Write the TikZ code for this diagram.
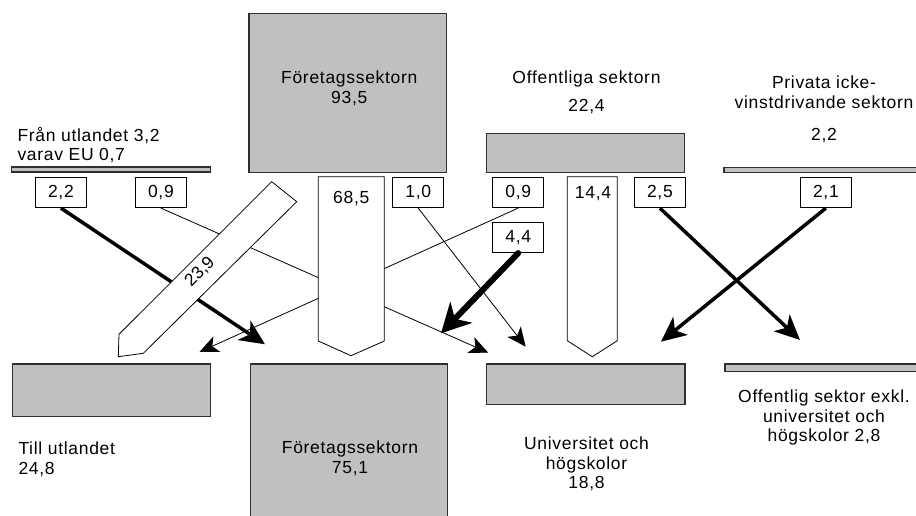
\documentclass[tikz,border=0pt]{standalone}
\usepackage{fontspec}
\setmainfont{Liberation Sans}[LetterSpace=4]
\newfontfamily\plainsans{Liberation Sans}
\usetikzlibrary{arrows.meta}
\definecolor{boxgray}{HTML}{C0C0C0}
\definecolor{edgegray}{HTML}{303030}
\newcommand{\mytxt}{\fontsize{17.5}{19.5}\selectfont}

\begin{document}
\begin{tikzpicture}[x=1pt,y=-1pt,
  graybox/.style={draw=edgegray, line width=1.2pt, fill=boxgray, inner sep=0pt, anchor=north west},
  valbox/.style={draw=black, line width=0.8pt, fill=white, inner sep=0pt, anchor=north west,
                 minimum width=51pt, minimum height=30.6pt, font=\mytxt},
  lbl/.style={inner sep=0pt, font=\mytxt, align=center},
  pent/.style={draw=black, line width=0.8pt, fill=white, line join=miter},
  thinflow/.style={line width=0.8pt, -{Stealth[length=19pt, width=17pt, inset=5pt]}},
  thickflow/.style={line width=3.5pt, -{Stealth[length=25pt, width=23pt, inset=7pt]}},
  heavyflow/.style={line width=6pt, line cap=round, -{Stealth[length=29pt, width=30pt, inset=9pt]}}
]
\path[use as bounding box] (0,0) rectangle (916,516);

% source bars and boxes
\node[graybox, minimum width=199.3pt, minimum height=5pt] (utlBar) at (10.7,166.5) {};
\node[graybox, minimum width=197.7pt, minimum height=158.4pt] (foretTop) at (248.3,13.3) {};
\node[graybox, minimum width=198.3pt, minimum height=38.4pt] (offBar) at (485.7,133.3) {};
\node[graybox, minimum width=200pt, minimum height=5pt] (privBar) at (723.3,166.7) {};

% destination boxes
\node[graybox, minimum width=198.3pt, minimum height=52.7pt] (tillBox) at (11.7,363.3) {};
\node[graybox, minimum width=196.7pt, minimum height=160pt] (foretBot) at (250,363.3) {};
\node[graybox, minimum width=198.3pt, minimum height=40.7pt] (univBox) at (486,363.3) {};
\node[graybox, minimum width=200pt, minimum height=7.4pt] (offExBar) at (724.3,363.3) {};

% value boxes
\node[valbox] (b22) at (35,176.7) {2,2};
\node[valbox] (b09a) at (135,176.7) {0,9};
\node[valbox] (b10) at (392.3,176.7) {1,0};
\node[valbox] (b09b) at (492.3,176.7) {0,9};
\node[valbox] (b25) at (634,176.7) {2,5};
\node[valbox] (b21) at (800,176.7) {2,1};
\node[valbox] (b44) at (492.3,221.7) {4,4};

% arrow tips
\coordinate (t22) at (265,344.3);
\coordinate (t09a) at (488.3,352.7);
\coordinate (t10) at (525.7,346.7);
\coordinate (t09b) at (199.5,352);
\coordinate (t44) at (441,333.3);
\coordinate (t25) at (800,340);
\coordinate (t21) at (661,341.7);

% flows
\draw[thinflow] (b09a.south) -- (t09a);
\draw[thinflow] (b09b.south) -- (t09b);
\draw[thinflow] (b10.south) -- (t10);
\draw[thickflow] (b22.south) -- (t22);
\draw[thickflow] (b25.south) -- (t25);
\draw[thickflow] (b21.south) -- (t21);
\draw[heavyflow] (b44.south) -- (t44);

% broad arrows
\draw[pent] (271.7,181.7) -- (296.7,201.7) -- (143.3,353.3) -- (118.3,356.7) -- (119,334.3) -- cycle;
\draw[pent] (318.3,176.7) -- (384.3,176.7) -- (384.3,341) -- (351,355.7) -- (318.3,341) -- cycle;
\draw[pent] (567.3,176.7) -- (617.3,176.7) -- (617.3,340.7) -- (592.3,356.7) -- (567.3,340.7) -- cycle;
\node[lbl, rotate=45, font=\plainsans\mytxt] (a239t) at (200,272) {23,9};
\node[lbl, anchor=north] (a685t) at (351.3,191) {68,5};
\node[lbl, anchor=north] (a144t) at (593,186.7) {14,4};

% texts
\node[lbl, align=left, anchor=north west] (franT) at (17.3,126.7) {Från utlandet 3,2\\varav EU 0,7};
\node[lbl, anchor=north] (foretTopT) at (349.3,70.7) {Företagssektorn\\93,5};
\node[lbl, anchor=north] (offT) at (586.5,71) {Offentliga sektorn\\[8.5pt]22,4};
\node[lbl, anchor=north] (privT) at (824,76) {Privata icke-\\vinstdrivande sektorn\\[13pt]2,2};
\node[lbl, align=left, anchor=north west] (tillT) at (18.3,441.7) {Till utlandet\\24,8};
\node[lbl, anchor=north] (foretBotT) at (350,440.7) {Företagssektorn\\75,1};
\node[lbl, anchor=north] (univT) at (586.5,436.7) {Universitet och\\högskolor\\18,8};
\node[lbl, anchor=north] (offExT) at (824,390) {Offentlig sektor exkl.\\universitet och\\högskolor 2,8};
\end{tikzpicture}
\end{document}
